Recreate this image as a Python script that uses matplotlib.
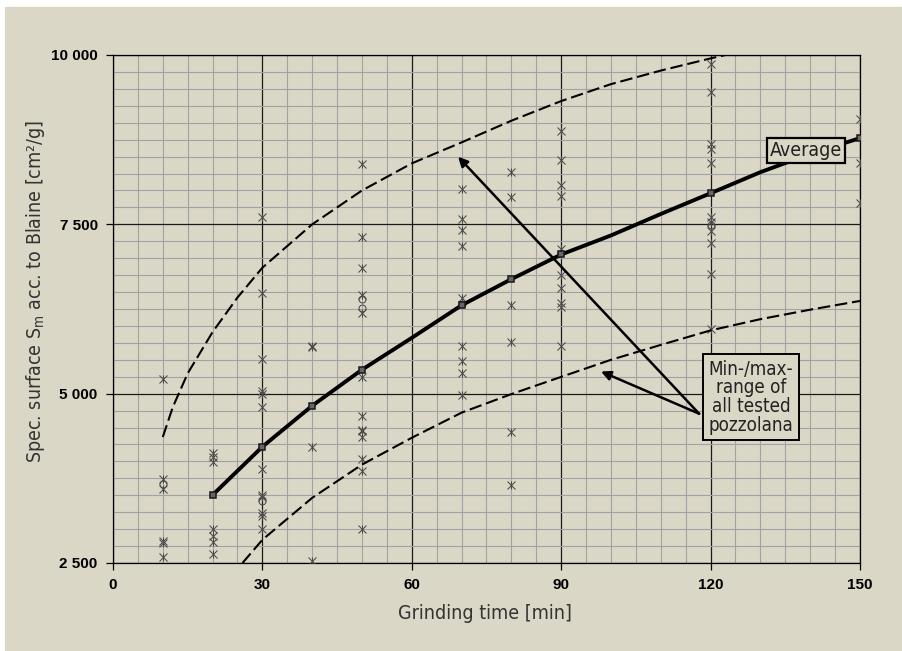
import numpy as np
import matplotlib
matplotlib.use('Agg')
import matplotlib.pyplot as plt
from matplotlib.patches import Rectangle

# Puntos medidos (tiempo de molienda [min] -> superficie Blaine [cm2/g])
t_10 = [5212, 3742, 3594, 2827, 2800, 2595]
t_20 = [4122, 4069, 3990, 3001, 2896, 2817, 2632]
t_30 = [7610, 6479, 5507, 5037, 4994, 4809, 3889, 3504, 3477, 3239, 3198, 3001]
t_40 = [5698, 5690, 4206, 2526]
t_50 = [8393, 7309, 6860, 6452, 6184, 5248, 4666, 4466, 4444, 4365, 4032, 3857, 3001]
t_70 = [8023, 7574, 7416, 7187, 6410, 5708, 5486, 5301, 4974]
t_80 = [8277, 7907, 6305, 5760, 4439, 3646]
t_90 = [8879, 8456, 8086, 7917, 7135, 6754, 6559, 6342, 6279, 5708]
t_120 = [9873, 9461, 8684, 8605, 8403, 7610, 7536, 7404, 7230, 6770, 5962]
t_150 = [9054, 8403, 7822]
columnas = {10: t_10, 20: t_20, 30: t_30, 40: t_40, 50: t_50, 70: t_70,
            80: t_80, 90: t_90, 120: t_120, 150: t_150}

# Puntos con circulo
circ_t = [10, 30, 50, 50, 70, 120]
circ_v = [3662, 3414, 6394, 6268, 6331, 7495]

# Promedio
prom_t = [20, 30, 40, 50, 70, 80, 90, 120, 150]
prom_v = [3504, 4217, 4822, 5354, 6305, 6691, 7055, 7959, 8773]
curva_t = [20, 30, 40, 50, 60, 70, 80, 90, 100, 110, 120, 130, 140, 150]
curva_v = [3504, 4217, 4822, 5354, 5824, 6305, 6691, 7055, 7336, 7653, 7959, 8270, 8540, 8773]

# Rango min/max
sup_t = [10, 12, 15, 20, 25, 30, 40, 50, 60, 70, 80, 90, 100, 110, 120, 123]
sup_v = [4360, 4800, 5300, 5910, 6420, 6860, 7500, 8000, 8400, 8710, 9030, 9320, 9570, 9770, 9950, 10000]
inf_t = [26, 30, 40, 50, 60, 70, 80, 90, 100, 110, 120, 130, 140, 150]
inf_v = [2500, 2843, 3462, 3953, 4349, 4720, 4994, 5248, 5500, 5720, 5934, 6100, 6240, 6369]

xticks = [0, 30, 60, 90, 120, 150]
yticks = [2500, 5000, 7500, 10000]
ytick_labels = ['2 500', '5 000', '7 500', '10 000']

fondo = '#dad7c6'
angosta = ['DejaVu Sans Condensed', 'DejaVu Sans']

fig = plt.figure(figsize=(9.03, 6.51), dpi=100)
fig.patch.set_facecolor('white')
fig.add_artist(Rectangle((5 / 903, 0), 1, 1 - 7 / 651, transform=fig.transFigure,
                         color=fondo, zorder=-10))

ax = fig.add_axes([113 / 903, 1 - 563 / 651, 747 / 903, 508 / 651])
ax.set_facecolor(fondo)
ax.set_xlim(0, 150)
ax.set_ylim(2500, 10000)
ax.set_xticks(xticks)
ax.set_xticks(np.arange(0, 151, 5), minor=True)
ax.set_yticks(yticks)
ax.set_yticks(np.arange(2500, 10001, 250), minor=True)
ax.set_yticklabels(ytick_labels)
ax.grid(which='minor', color='#a2a2a2', lw=0.8, zorder=0)
ax.grid(which='major', color='#1a1a1a', lw=0.9, zorder=0)
ax.set_axisbelow(True)
ax.tick_params(which='minor', length=0)
ax.tick_params(which='major', length=5, width=0.9, direction='out', pad=6,
               labelsize=11)
for lab in ax.get_xticklabels() + ax.get_yticklabels():
    lab.set_fontweight('bold')
    lab.set_family(['Liberation Sans', 'DejaVu Sans'])
for s in ax.spines.values():
    s.set_linewidth(0.9)

# Dispersion
for t, vals in columnas.items():
    xs = [t] * len(vals)
    ax.plot(xs, vals, ls='none', marker='x', ms=5.8, mew=0.75, color='#4a4a4a', zorder=3)
    ax.plot(xs, vals, ls='none', marker='|', ms=5.8, mew=0.75, color='#4a4a4a', zorder=3)
ax.plot(circ_t, circ_v, ls='none', marker='o', ms=5, mfc='none', mew=0.75,
        color='#4a4a4a', zorder=3)

# Curvas
ax.plot(sup_t, sup_v, ls=(0, (6, 2.3)), lw=1.5, color='black', zorder=4)
ax.plot(inf_t, inf_v, ls=(0, (6, 2.3)), lw=1.5, color='black', zorder=4)
ax.plot(curva_t, curva_v, lw=2.8, color='black', zorder=5)
ax.plot(prom_t, prom_v, ls='none', marker='s', ms=4.5, color='#1a1a1a', mfc='#666666',
        mew=1.1, zorder=6)

# Anotaciones
ax.text(139.2, 8589, 'Average', ha='center', va='center', fontsize=14,
        family=angosta, fontstretch='condensed', color='#222222', zorder=8,
        bbox=dict(boxstyle='square,pad=0.15', fc=fondo, ec='black', lw=1.6))
ax.text(128.1, 4950, 'Min-/max-\nrange of\nall tested\npozzolana', ha='center',
        va='center', fontsize=13.5, family=angosta, fontstretch='condensed',
        color='#222222', linespacing=0.98, zorder=8,
        bbox=dict(boxstyle='square,pad=0.3', fc=fondo, ec='black', lw=1.4))
flecha = dict(arrowstyle='-|>', lw=1.8, color='black', mutation_scale=14,
              shrinkA=0, shrinkB=0)
ax.annotate('', xy=(69.3, 8498), xytext=(117.7, 4704), arrowprops=flecha, zorder=7)
ax.annotate('', xy=(98.0, 5327), xytext=(117.7, 4704), arrowprops=flecha, zorder=7)

ax.set_xlabel('Grinding time [min]', fontsize=14, family=angosta,
              fontstretch='condensed', color='#333333')
ax.set_ylabel(r'Spec. surface S$_\mathregular{m}$ acc. to Blaine [cm²/g]', fontsize=14,
              family=angosta, fontstretch='condensed', color='#333333')
ax.xaxis.set_label_coords(0.498, -0.08)
ax.yaxis.set_label_coords(-0.088, 0.535)

fig.savefig('out.png', dpi=100, facecolor=fig.get_facecolor())
